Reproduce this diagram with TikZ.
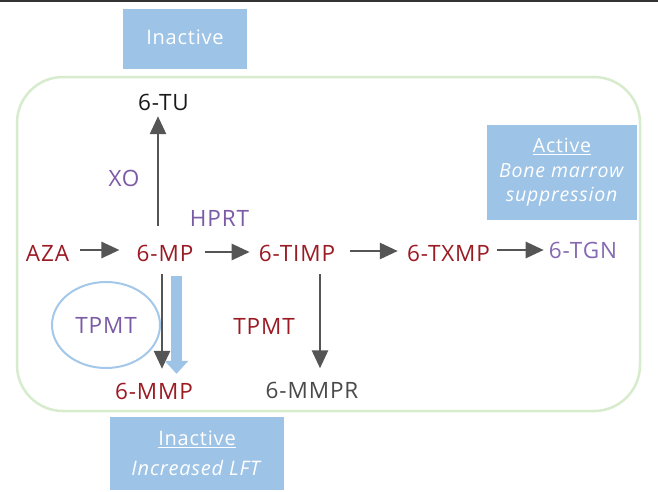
\documentclass[tikz,border=0pt]{standalone}
\usepackage{fontspec}
\setmainfont{Open Sans}[LetterSpace=4]
\usetikzlibrary{arrows.meta,shapes.geometric}
\definecolor{dred}{HTML}{9B1B24}
\definecolor{purp}{HTML}{7B5AA6}
\definecolor{purpl}{HTML}{8569B3}
\definecolor{arrgray}{HTML}{555555}
\definecolor{mmprgray}{HTML}{4A4A4A}
\definecolor{tugray}{HTML}{1A1A1A}
\definecolor{boxblue}{HTML}{9DC3E6}
\definecolor{ringblue}{HTML}{A3C8EA}
\definecolor{framegreen}{HTML}{D6ECCD}
\definecolor{topline}{HTML}{333333}
\tikzset{
  lbl/.style={inner sep=0pt, text height=16pt, text depth=0pt, font=\fontsize{22.5}{26}\selectfont},
  arr/.style={draw=arrgray, line width=2.7pt, -{Triangle[length=18pt,width=16pt]}},
  bluearr/.style={draw=boxblue, line width=11pt, -{Triangle[length=13pt,width=23pt]}},
  bluebox/.style={fill=boxblue, draw=none, text=white, inner sep=0pt, align=center},
}
\begin{document}
\begin{tikzpicture}[x=1pt,y=-1pt]
\useasboundingbox (0,0) rectangle (658,491);
\fill[white] (0,0) rectangle (658,491);
\fill[topline] (0,0) rectangle (658,2.2);
% frame
\draw[framegreen, line width=2.5pt, rounded corners=46pt] (17,77) rectangle (640,411);
% boxes
\node[bluebox, minimum width=124pt, minimum height=60pt, font=\fontsize{20}{24}\selectfont] (inactTop) at (185,39) {\raisebox{4pt}{Inactive}};
\node[bluebox, minimum width=150pt, minimum height=95pt, font=\fontsize{19.5}{24.5}\selectfont] (active) at (562,172.5)
  {\underline{Active}\\ \textit{Bone marrow}\\ \textit{suppression}};
\node[bluebox, minimum width=174pt, minimum height=73pt, font=\fontsize{20}{28}\selectfont] (inactBot) at (197,453.5)
  {\raisebox{2pt}{\underline{Inactive}}\\ \textit{Increased LFT}};
% labels
\node[lbl, text=tugray] (tu) at (163.5,102) {6-TU};
\node[lbl, text=purp] (xo) at (124,178) {XO};
\node[lbl, text=purp] (hprt) at (219.5,218) {HPRT};
\node[lbl, text=dred] (aza) at (47.5,253) {AZA};
\node[lbl, text=dred] (mp) at (165,253) {6-MP};
\node[lbl, text=dred] (timp) at (297,253) {6-TIMP};
\node[lbl, text=dred] (txmp) at (448.5,253) {6-TXMP};
\node[lbl, text=purpl] (tgn) at (583,250) {6-TGN};
\node[lbl, text=dred] (tpmtR) at (264,326) {TPMT};
\node[lbl, text=dred] (mmp) at (154,391) {6-MMP};
\node[lbl, text=mmprgray] (mmpr) at (312,390.5) {6-MMPR};
\node[ellipse, draw=ringblue, line width=2pt, minimum width=108pt, minimum height=86pt, inner sep=0pt,
      text=purp, font=\fontsize{22.5}{26}\selectfont] (tpmtP) at (106,325) {TPMT};
% connectors
\draw[arr, shorten <=19pt, shorten >=6pt] ([xshift=-7pt]mp.north) -- ([xshift=-7pt]mp.north |- tu.south);
\draw[arr, shorten <=13pt, shorten >=14pt] ([xshift=-3pt]mp.south) -- ([xshift=-3pt]mp.south |- mmp.north);
\draw[bluearr, shorten <=15pt, shorten >=9pt] ([xshift=11.5pt]mp.south) -- ([xshift=11.5pt]mp.south |- mmp.north);
\draw[arr, shorten <=11pt, shorten >=17pt] ([yshift=3pt]aza.east) -- ([yshift=3pt]aza.east -| mp.west);
\draw[arr, shorten <=11pt, shorten >=9pt] ([yshift=1pt]mp.east) -- ([yshift=1pt]mp.east -| timp.west);
\draw[arr, shorten <=15pt, shorten >=9pt] ([yshift=2pt]timp.east) -- ([yshift=2pt]timp.east -| txmp.west);
\draw[arr, shorten <=7pt, shorten >=5pt] (txmp.east |- tgn.west) -- (tgn.west);
\draw[arr, shorten <=13pt, shorten >=14pt] ([xshift=23pt]timp.south) -- ([xshift=23pt]timp.south |- mmpr.north);
\end{tikzpicture}
\end{document}
